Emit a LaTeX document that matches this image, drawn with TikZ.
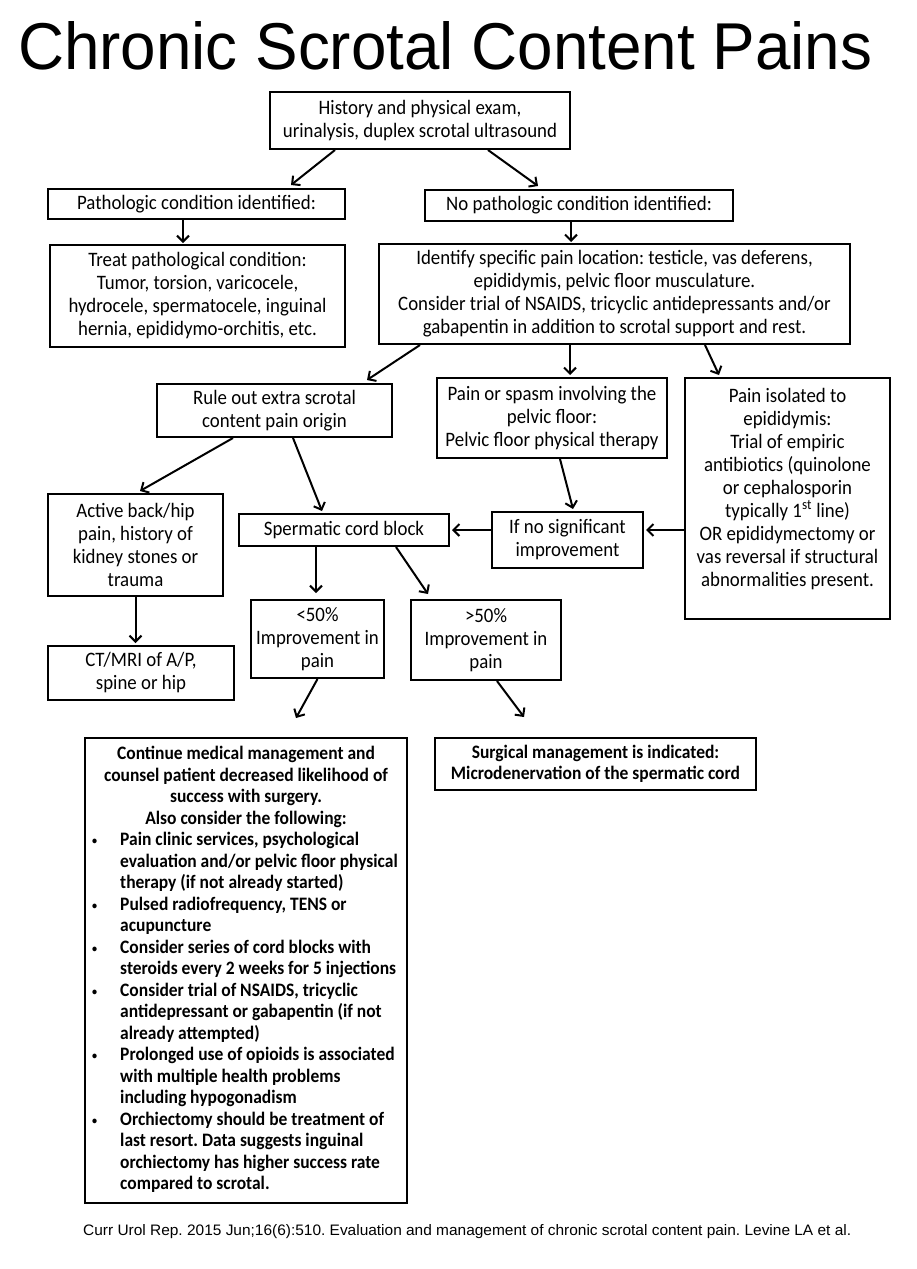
\documentclass[tikz,border=0pt]{standalone}
\usepackage{graphicx}
\usepackage{fontspec}
\setmainfont{Carlito}[FakeStretch=0.92]
\newfontfamily\arialfont{Liberation Sans}
\usetikzlibrary{arrows.meta}
\frenchspacing
\newcommand\boxfont{\fontsize{20.5}{23}\selectfont}
\newcommand\boldboxfont{\bfseries\fontsize{19}{21.5}\selectfont}
\newcommand\bul{\makebox[26pt][l]{\hspace*{-2pt}\raisebox{1pt}{\fontsize{11}{11}\selectfont\textbullet}}}
\begin{document}
\begin{tikzpicture}[x=1pt,y=-1pt,
  box/.style={draw, line width=2pt, inner sep=0pt, align=center, font=\boxfont},
  sz/.style 2 args={minimum width=#1pt, minimum height=#2pt},
  arr/.style={line width=2pt, -{Straight Barb[length=6pt,width=12pt]}}]
\fill[white] (0,0) rectangle (916,1269);
\useasboundingbox (0,0) rectangle (916,1269);

% title and citation
\node[anchor=base west, inner sep=0pt] (title) at (18,69)
  {\resizebox{854pt}{48pt}{\arialfont Chronic Scrotal Content Pains}};
\node[anchor=base west, inner sep=0pt] (cite) at (83,1235)
  {\resizebox{768pt}{11pt}{\arialfont Curr Urol Rep. 2015 Jun;16(6):510. Evaluation and management of chronic scrotal content pain. Levine LA et al.}};

% boxes
\node[box, sz={300}{57}] (top) at (420,120.5)
  {History and physical exam,\\urinalysis, duplex scrotal ultrasound};
\node[box, sz={297}{30}] (path) at (196.5,204) {Pathologic condition identified:};
\node[box, sz={308}{31}] (nopath) at (579,205.5) {No pathologic condition identified:};
\node[box, sz={295}{102}] (treat) at (197.5,296)
  {Treat pathological condition:\\Tumor, torsion, varicocele,\\hydrocele, spermatocele, inguinal\\hernia, epididymo-orchitis, etc.};
\node[box, sz={471}{100}] (ident) at (614.5,294)
  {Identify specific pain location: testicle, vas deferens,\\epididymis, pelvic floor musculature.\\Consider trial of NSAIDS, tricyclic antidepressants and/or\\gabapentin in addition to scrotal support and rest.};
\node[box, sz={235}{53}] (rule) at (274.5,410.5) {Rule out extra scrotal\\content pain origin};
\node[box, sz={230}{80}] (spasm) at (552,418)
  {Pain or spasm involving the\\pelvic floor:\\Pelvic floor physical therapy};
\node[box, sz={205}{241}] (iso) at (787.5,498.5) {};
\node[align=center, font=\boxfont, inner sep=0pt, anchor=north] (isotxt) at (787.5,388)
  {Pain isolated to\\epididymis:\\Trial of empiric\\antibiotics (quinolone\\or cephalosporin\\typically 1\textsuperscript{st} line)\\OR epididymectomy or\\vas reversal if structural\\abnormalities present.};
\node[box, sz={175}{102}] (active) at (135.5,545)
  {Active back/hip\\pain, history of\\kidney stones or\\trauma};
\node[box, sz={210}{32}] (cord) at (344,530) {Spermatic cord block};
\node[box, sz={151}{56}] (ifno) at (567.5,540) {If no significant\\improvement};
\node[box, sz={186}{54}] (ct) at (141,673) {CT/MRI of A/P,\\spine or hip};
\node[box, sz={133}{78}] (lt) at (317.5,639) {<50\%\\Improvement in\\pain};
\node[box, sz={150}{80}] (gt) at (486,640) {>50\%\\Improvement in\\pain};
\node[box, sz={322}{465}] (cont) at (246,970.5)
  {\boldboxfont\begin{tabular}{@{}l@{}l@{}}
  \multicolumn{2}{@{}c@{}}{Continue medical management and}\\
  \multicolumn{2}{@{}c@{}}{counsel patient decreased likelihood of}\\
  \multicolumn{2}{@{}c@{}}{success with surgery.}\\
  \multicolumn{2}{@{}c@{}}{Also consider the following:}\\
  \bul & Pain clinic services, psychological\\
       & evaluation and/or pelvic floor physical\\
       & therapy (if not already started)\\
  \bul & Pulsed radiofrequency, TENS or\\
       & acupuncture\\
  \bul & Consider series of cord blocks with\\
       & steroids every 2 weeks for 5 injections\\
  \bul & Consider trial of NSAIDS, tricyclic\\
       & antidepressant or gabapentin (if not\\
       & already attempted)\\
  \bul & Prolonged use of opioids is associated\\
       & with multiple health problems\\
       & including hypogonadism\\
  \bul & Orchiectomy should be treatment of\\
       & last resort. Data suggests inguinal\\
       & orchiectomy has higher success rate\\
       & compared to scrotal.
  \end{tabular}};
\node[box, sz={321}{52}, font=\boldboxfont] (surg) at (595.5,764)
  {Surgical management is indicated:\\Microdenervation of the spermatic cord};

% free arrow ends
\coordinate (ltend) at (296,718);
\coordinate (gtend) at (524,717);

% connectors
\draw[arr] ([xshift=-85pt]top.south) -- ([xshift=94.5pt,yshift=3pt]path.north);
\draw[arr] ([xshift=68pt]top.south) -- ([xshift=-41pt,yshift=3pt]nopath.north);
\draw[arr] ([xshift=-13.5pt]path.south) -- ([xshift=-14.5pt,yshift=1pt]treat.north);
\draw[arr] ([xshift=-8pt]nopath.south) -- ([xshift=-43.5pt,yshift=1pt]ident.north);
\draw[arr] ([xshift=-194.5pt]ident.south) -- ([xshift=92.5pt,yshift=3pt]rule.north);
\draw[arr] ([xshift=-44.5pt]ident.south) -- ([xshift=18pt,yshift=2pt]spasm.north);
\draw[arr] ([xshift=90.5pt]ident.south) -- ([xshift=-68.5pt,yshift=2pt]iso.north);
\draw[arr] ([xshift=-41.5pt]rule.south) -- ([xshift=4.5pt,yshift=2pt]active.north);
\draw[arr] ([xshift=18.5pt]rule.south) -- ([xshift=-22pt,yshift=2pt]cord.north);
\draw[arr] ([xshift=8pt]spasm.south) -- ([xshift=5.5pt,yshift=2pt]ifno.north);
\draw[arr] ([yshift=-31.5pt]iso.west) -- ([xshift=2pt,yshift=10pt]ifno.east);
\draw[arr] ([yshift=10pt]ifno.west) -- ([xshift=2pt]cord.east);
\draw[arr] (active.south) -- ([xshift=-5.5pt,yshift=2pt]ct.north);
\draw[arr] ([xshift=-28pt]cord.south) -- ([xshift=-1.5pt,yshift=6pt]lt.north);
\draw[arr] ([xshift=52pt]cord.south) -- ([xshift=-58pt,yshift=5pt]gt.north);
\draw[arr] (lt.south) -- (ltend);
\draw[arr] ([xshift=11pt]gt.south) -- (gtend);
\end{tikzpicture}
\end{document}
